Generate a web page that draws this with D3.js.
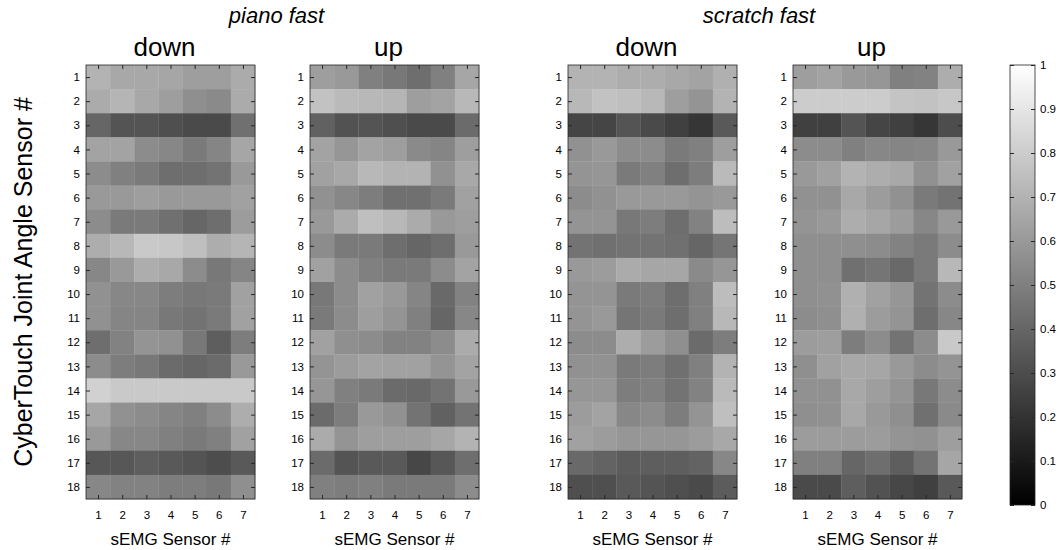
<!DOCTYPE html>
<html>
<head>
<meta charset="utf-8">
<script src="https://cdn.jsdelivr.net/npm/d3@7"></script>
<style>
body { margin: 0; background: #fff; }
text { font-family: "Liberation Sans", Arial, sans-serif; fill: #000; }
.tick line { stroke: #262626; }
</style>
</head>
<body>
<div id="chart"></div>
<script>
// sensors on each axis
var emgSensors = [1, 2, 3, 4, 5, 6, 7];
var angleSensors = d3.range(1, 19);

// normalised values, one row per joint angle sensor, one column per sEMG sensor
var pianoDown = [
  [0.70, 0.66, 0.66, 0.65, 0.62, 0.62, 0.67],
  [0.67, 0.71, 0.66, 0.62, 0.56, 0.54, 0.67],
  [0.40, 0.33, 0.33, 0.31, 0.29, 0.29, 0.44],
  [0.64, 0.64, 0.55, 0.53, 0.48, 0.52, 0.65],
  [0.55, 0.50, 0.48, 0.43, 0.43, 0.45, 0.60],
  [0.60, 0.60, 0.62, 0.60, 0.60, 0.60, 0.63],
  [0.55, 0.48, 0.48, 0.44, 0.40, 0.43, 0.61],
  [0.68, 0.72, 0.79, 0.78, 0.75, 0.68, 0.71],
  [0.53, 0.60, 0.68, 0.66, 0.55, 0.47, 0.52],
  [0.57, 0.53, 0.53, 0.49, 0.47, 0.48, 0.63],
  [0.57, 0.52, 0.52, 0.47, 0.45, 0.48, 0.63],
  [0.43, 0.51, 0.58, 0.57, 0.47, 0.37, 0.49],
  [0.55, 0.49, 0.47, 0.42, 0.40, 0.42, 0.60],
  [0.82, 0.79, 0.79, 0.79, 0.79, 0.79, 0.79],
  [0.65, 0.57, 0.55, 0.52, 0.50, 0.55, 0.68],
  [0.60, 0.53, 0.53, 0.50, 0.48, 0.50, 0.63],
  [0.34, 0.34, 0.37, 0.35, 0.33, 0.30, 0.35],
  [0.53, 0.51, 0.51, 0.49, 0.49, 0.47, 0.56]
];

var pianoUp = [
  [0.62, 0.60, 0.50, 0.47, 0.43, 0.50, 0.65],
  [0.76, 0.73, 0.72, 0.71, 0.62, 0.64, 0.72],
  [0.38, 0.32, 0.33, 0.31, 0.29, 0.29, 0.42],
  [0.64, 0.59, 0.64, 0.62, 0.54, 0.52, 0.62],
  [0.63, 0.66, 0.72, 0.70, 0.70, 0.57, 0.66],
  [0.57, 0.53, 0.49, 0.44, 0.44, 0.48, 0.63],
  [0.60, 0.67, 0.75, 0.72, 0.67, 0.60, 0.62],
  [0.55, 0.48, 0.48, 0.43, 0.40, 0.43, 0.60],
  [0.63, 0.55, 0.50, 0.48, 0.48, 0.55, 0.64],
  [0.47, 0.55, 0.63, 0.60, 0.52, 0.41, 0.51],
  [0.48, 0.55, 0.62, 0.58, 0.50, 0.40, 0.53],
  [0.63, 0.56, 0.55, 0.51, 0.51, 0.55, 0.67],
  [0.58, 0.61, 0.64, 0.63, 0.63, 0.58, 0.64],
  [0.59, 0.50, 0.48, 0.42, 0.41, 0.45, 0.60],
  [0.42, 0.49, 0.60, 0.57, 0.45, 0.38, 0.45],
  [0.67, 0.58, 0.62, 0.62, 0.62, 0.65, 0.70],
  [0.42, 0.33, 0.35, 0.35, 0.28, 0.34, 0.43],
  [0.50, 0.49, 0.50, 0.48, 0.48, 0.48, 0.55]
];

var scratchDown = [
  [0.70, 0.70, 0.68, 0.68, 0.66, 0.64, 0.69],
  [0.72, 0.76, 0.75, 0.72, 0.62, 0.58, 0.70],
  [0.27, 0.27, 0.33, 0.29, 0.25, 0.21, 0.35],
  [0.57, 0.60, 0.55, 0.55, 0.48, 0.50, 0.62],
  [0.58, 0.59, 0.48, 0.50, 0.43, 0.49, 0.73],
  [0.55, 0.57, 0.60, 0.60, 0.60, 0.58, 0.60],
  [0.58, 0.58, 0.47, 0.49, 0.43, 0.51, 0.74],
  [0.45, 0.44, 0.45, 0.45, 0.44, 0.40, 0.46],
  [0.60, 0.61, 0.67, 0.65, 0.65, 0.54, 0.59],
  [0.58, 0.58, 0.48, 0.49, 0.43, 0.50, 0.74],
  [0.58, 0.60, 0.46, 0.48, 0.43, 0.50, 0.72],
  [0.55, 0.55, 0.68, 0.61, 0.56, 0.42, 0.49],
  [0.57, 0.57, 0.48, 0.49, 0.44, 0.50, 0.70],
  [0.59, 0.59, 0.49, 0.50, 0.45, 0.51, 0.73],
  [0.61, 0.64, 0.53, 0.55, 0.49, 0.58, 0.75],
  [0.63, 0.61, 0.59, 0.59, 0.59, 0.61, 0.66],
  [0.41, 0.39, 0.36, 0.37, 0.37, 0.39, 0.53],
  [0.31, 0.31, 0.35, 0.33, 0.31, 0.29, 0.36]
];

var scratchUp = [
  [0.62, 0.64, 0.60, 0.59, 0.50, 0.51, 0.68],
  [0.80, 0.80, 0.80, 0.80, 0.77, 0.76, 0.78],
  [0.25, 0.25, 0.33, 0.27, 0.25, 0.21, 0.30],
  [0.55, 0.55, 0.50, 0.53, 0.52, 0.53, 0.60],
  [0.60, 0.63, 0.70, 0.68, 0.66, 0.57, 0.63],
  [0.57, 0.57, 0.66, 0.61, 0.57, 0.48, 0.45],
  [0.58, 0.60, 0.68, 0.65, 0.61, 0.53, 0.60],
  [0.56, 0.56, 0.56, 0.55, 0.51, 0.48, 0.55],
  [0.56, 0.56, 0.44, 0.46, 0.41, 0.48, 0.72],
  [0.56, 0.57, 0.69, 0.63, 0.59, 0.45, 0.55],
  [0.55, 0.56, 0.69, 0.61, 0.58, 0.43, 0.53],
  [0.61, 0.62, 0.49, 0.55, 0.45, 0.55, 0.79],
  [0.56, 0.63, 0.66, 0.65, 0.60, 0.55, 0.58],
  [0.57, 0.57, 0.66, 0.62, 0.58, 0.47, 0.55],
  [0.56, 0.57, 0.66, 0.60, 0.56, 0.44, 0.54],
  [0.61, 0.61, 0.61, 0.61, 0.58, 0.57, 0.62],
  [0.50, 0.50, 0.40, 0.43, 0.37, 0.45, 0.65],
  [0.29, 0.29, 0.37, 0.32, 0.28, 0.25, 0.35]
];

var taskNames = ["piano fast", "scratch fast"];
var directionNames = ["down", "up"];
var colorbarTicks = [0, 0.1, 0.2, 0.3, 0.4, 0.5, 0.6, 0.7, 0.8, 0.9, 1];

var panels = [
  { task: 0, title: directionNames[0], values: pianoDown, left: 86 },
  { task: 0, title: directionNames[1], values: pianoUp, left: 310 },
  { task: 1, title: directionNames[0], values: scratchDown, left: 568 },
  { task: 1, title: directionNames[1], values: scratchUp, left: 793 }
];

// Setup chart dimensions
var svgWidth = 1060;
var svgHeight = 550;
var panelTop = 65;
var panelWidth = 169;
var panelHeight = 434;
var titleShift = -6;

var svg = d3.select("#chart")
  .append("svg")
  .attr("width", svgWidth)
  .attr("height", svgHeight);

// Create scale functions
var xScale = d3.scaleLinear().domain([0.5, 7.5]).range([0, panelWidth]);
var yScale = d3.scaleLinear().domain([0.5, 18.5]).range([0, panelHeight]);
var grey = d3.scaleLinear().domain([0, 1]).range(["#000000", "#ffffff"]).clamp(true);

panels.forEach(function(p) {
  var g = svg.append("g")
    .attr("transform", `translate(${p.left}, ${panelTop})`);

  // cells
  var cells = [];
  p.values.forEach(function(row, i) {
    row.forEach(function(v, j) {
      cells.push({ x: emgSensors[j], y: angleSensors[i], v: v });
    });
  });

  g.selectAll("rect.cell")
    .data(cells)
    .enter()
    .append("rect")
    .attr("class", "cell")
    .attr("x", d => xScale(d.x - 0.5))
    .attr("y", d => yScale(d.y - 0.5))
    .attr("width", xScale(1.5) - xScale(0.5) + 0.3)
    .attr("height", yScale(1.5) - yScale(0.5) + 0.3)
    .attr("fill", d => grey(d.v));

  // axes, ticks pointing inward
  g.append("g")
    .attr("transform", `translate(0, ${panelHeight})`)
    .call(d3.axisBottom(xScale).tickValues(emgSensors).tickSize(-4).tickPadding(12).tickFormat(d3.format("d")));
  g.append("g")
    .call(d3.axisTop(xScale).tickValues(emgSensors).tickSize(-4).tickFormat(""));
  g.append("g")
    .call(d3.axisLeft(yScale).tickValues(angleSensors).tickSize(-4).tickPadding(6).tickFormat(d3.format("d")));
  g.append("g")
    .attr("transform", `translate(${panelWidth}, 0)`)
    .call(d3.axisRight(yScale).tickValues(angleSensors).tickSize(-4).tickFormat(""));

  g.selectAll(".domain").remove();
  g.selectAll(".tick text").style("font-size", "11.5px").attr("fill", "#000");

  g.append("rect")
    .attr("width", panelWidth)
    .attr("height", panelHeight)
    .attr("fill", "none")
    .attr("stroke", "#262626")
    .attr("stroke-width", 0.8);

  // titles
  g.append("text")
    .attr("x", panelWidth / 2 + titleShift)
    .attr("y", -9)
    .attr("text-anchor", "middle")
    .style("font-size", "26px")
    .text(p.title);

  g.append("text")
    .attr("x", panelWidth / 2)
    .attr("y", panelHeight + 46)
    .attr("text-anchor", "middle")
    .style("font-size", "17px")
    .text("sEMG Sensor #");
});

// task titles centred over each pair
[0, 1].forEach(function(t) {
  var pair = panels.filter(p => p.task === t);
  var cx = (pair[0].left + pair[1].left + panelWidth) / 2 + titleShift;
  svg.append("text")
    .attr("x", cx)
    .attr("y", 23)
    .attr("text-anchor", "middle")
    .style("font-size", "22px")
    .style("font-style", "italic")
    .text(taskNames[t]);
});

// y axis label
svg.append("text")
  .attr("transform", `translate(32, ${panelTop + panelHeight / 2}) rotate(-90)`)
  .attr("text-anchor", "middle")
  .style("font-size", "25px")
  .text("CyberTouch Joint Angle Sensor #");

// colorbar
var cbLeft = 1010, cbWidth = 25, cbTop = 65, cbHeight = 440;
var grad = svg.append("defs").append("linearGradient")
  .attr("id", "greyGrad")
  .attr("x1", 0).attr("y1", 1).attr("x2", 0).attr("y2", 0);
grad.append("stop").attr("offset", "0%").attr("stop-color", grey(0));
grad.append("stop").attr("offset", "100%").attr("stop-color", grey(1));

var cbScale = d3.scaleLinear().domain([0, 1]).range([cbHeight, 0]);
var cb = svg.append("g").attr("transform", `translate(${cbLeft}, ${cbTop})`);
cb.append("rect")
  .attr("width", cbWidth)
  .attr("height", cbHeight)
  .attr("fill", "url(#greyGrad)");
cb.append("g")
  .attr("transform", `translate(${cbWidth}, 0)`)
  .call(d3.axisRight(cbScale).tickValues(colorbarTicks).tickSize(-4).tickPadding(5).tickFormat(d => String(d)));
cb.append("g")
  .call(d3.axisLeft(cbScale).tickValues(colorbarTicks).tickSize(-4).tickFormat(""));
cb.selectAll(".domain").remove();
cb.selectAll(".tick text").style("font-size", "11.5px").attr("fill", "#000");
cb.append("rect")
  .attr("width", cbWidth)
  .attr("height", cbHeight)
  .attr("fill", "none")
  .attr("stroke", "#262626")
  .attr("stroke-width", 0.8);
</script>
</body>
</html>
